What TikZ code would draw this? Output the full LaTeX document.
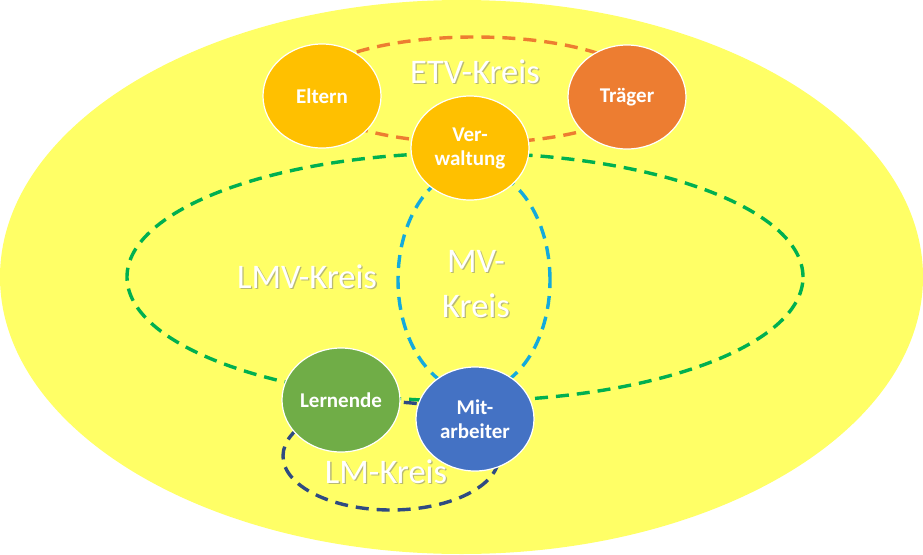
\documentclass[tikz,border=0pt]{standalone}
\usepackage{fontspec}
\setmainfont{Carlito}
\usetikzlibrary{shapes.geometric}
\definecolor{bgyellow}{RGB}{255,255,102}
\definecolor{goldc}{RGB}{255,192,0}
\definecolor{orangec}{RGB}{237,125,49}
\definecolor{greenc}{RGB}{112,173,71}
\definecolor{bluec}{RGB}{68,114,196}
\definecolor{dgreen}{RGB}{0,176,80}
\definecolor{lblue}{RGB}{20,170,220}
\definecolor{dblue}{RGB}{47,75,130}
\begin{document}
\begin{tikzpicture}[x=1pt,y=-1pt,
  member/.style={ellipse, draw=white, line width=1.2pt, minimum width=118pt,
    minimum height=104pt, inner sep=0pt, text=white,
    font=\fontsize{21}{24}\selectfont\bfseries, align=center},
  kreisdash/.style={line width=3.4pt, dash pattern=on 13pt off 8pt},
  kreis/.style={text=white, font=\fontsize{34.5}{42}\selectfont, anchor=base, inner sep=0pt},
  kreisshadow/.style={kreis, text=black!50, opacity=0.55, xshift=1.3pt, yshift=-1.3pt}]
\useasboundingbox (0,0) rectangle (923,554);
% background
\fill[bgyellow] (461.5,277) ellipse [x radius=461.5pt, y radius=277pt];
% circles of relationship
\draw[kreisdash, orangec] (475,90) ellipse [x radius=170pt, y radius=53pt];
\draw[kreisdash, dgreen] (465,277) ellipse [x radius=338pt, y radius=124pt];
\draw[kreisdash, lblue] (474,280) ellipse [x radius=76pt, y radius=112pt];
\draw[kreisdash, dblue] (391,456) ellipse [x radius=108pt, y radius=54pt];
% members
\node[member, fill=goldc] (eltern) at (322,96) {Eltern};
\node[member, fill=orangec] (traeger) at (627,97) {Träger};
\node[member, fill=goldc] (verwaltung) at (470,148) {Ver-\\waltung};
\node[member, fill=greenc] (lernende) at (341,400) {Lernende};
\node[member, fill=bluec] (mitarbeiter) at (475,419) {Mit-\\arbeiter};
% labels
\node[kreisshadow] (etvs) at (475,83) {ETV-Kreis};
\node[kreis] (etv) at (475,83) {ETV-Kreis};
\node[kreisshadow] (lmvs) at (307,288) {LMV-Kreis};
\node[kreis] (lmv) at (307,288) {LMV-Kreis};
\node[kreisshadow] (mv1s) at (476,272) {MV-};
\node[kreis] (mv1) at (476,272) {MV-};
\node[kreisshadow] (mv2s) at (476,317) {Kreis};
\node[kreis] (mv2) at (476,317) {Kreis};
\node[kreisshadow] (lms) at (386,483) {LM-Kreis};
\node[kreis] (lm) at (386,483) {LM-Kreis};
\end{tikzpicture}
\end{document}
